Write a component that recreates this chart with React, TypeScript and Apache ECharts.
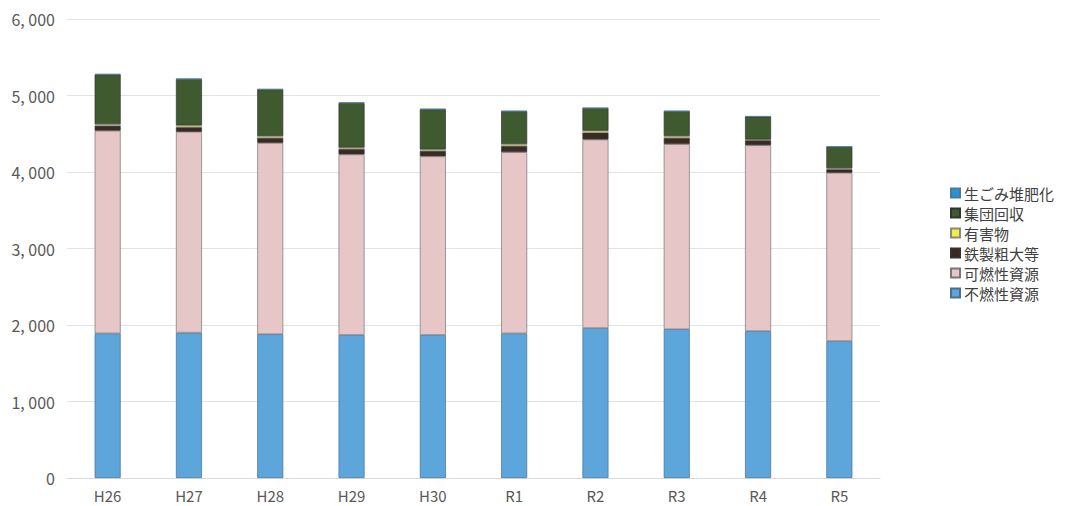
import React, { useEffect, useRef } from "react";
import * as echarts from "echarts";

const categories = ["H26", "H27", "H28", "H29", "H30", "R1", "R2", "R3", "R4", "R5"];
const funenValues = [1890, 1900, 1880, 1870, 1870, 1890, 1960, 1945, 1920, 1790];
const kanenValues = [2650, 2625, 2500, 2360, 2335, 2370, 2465, 2420, 2430, 2200];
const tetsuValues = [65, 60, 65, 70, 70, 80, 90, 80, 65, 45];
const yugaiValues = [20, 25, 25, 20, 20, 25, 25, 25, 10, 15];
const shudanValues = [650, 605, 610, 580, 525, 430, 295, 325, 300, 280];
const namagomiValues = [5, 5, 3, 12, 5, 3, 3, 3, 3, 3];
const legendOrder = ["生ごみ堆肥化", "集団回収", "有害物", "鉄製粗大等", "可燃性資源", "不燃性資源"];

export default function App() {
  const ref = useRef<HTMLDivElement>(null);
  useEffect(() => {
    if (!ref.current) return;
    const chart = echarts.init(ref.current, null, { renderer: "svg" });
    const mk = (name: string, data: number[], color: string, border = "#555") => ({
      name,
      type: "bar",
      stack: "total",
      barWidth: 26,
      data,
      itemStyle: { color, borderColor: border, borderWidth: 0.7 },
    });
    chart.setOption({
      animation: false,
      backgroundColor: "#ffffff",
      grid: { left: 67, right: 193, top: 19, bottom: 28 },
      legend: {
        orient: "vertical",
        left: 945,
        top: 179,
        itemWidth: 9,
        itemHeight: 9,
        itemGap: 2,
        icon: "rect",
        data: legendOrder,
        textStyle: { fontSize: 15, lineHeight: 18, color: "#404040", fontFamily: "Noto Sans CJK JP", padding: [0, 0, 0, -1] },
      },
      xAxis: {
        type: "category",
        data: categories,
        axisTick: { show: false },
        axisLine: { lineStyle: { color: "#d9d9d9" } },
        axisLabel: { fontSize: 15, color: "#595959", margin: 10, fontFamily: "Noto Sans CJK JP" },
      },
      yAxis: {
        type: "value",
        min: 0,
        max: 6000,
        interval: 1000,
        axisLine: { show: false },
        axisTick: { show: false },
        splitLine: { lineStyle: { color: "#e3e3e3" } },
        axisLabel: {
          fontSize: 16,
          color: "#595959",
          margin: 12,
          fontFamily: "Noto Sans CJK JP",
          formatter: (v: number) => (v >= 1000 ? `${Math.floor(v / 1000)}, ${String(v % 1000).padStart(3, "0")}` : String(v)),
        },
      },
      series: [
        mk("不燃性資源", funenValues, "#5da6db", "#4a6f8f"),
        mk("可燃性資源", kanenValues, "#e6c6c6", "#777"),
        mk("鉄製粗大等", tetsuValues, "#3b2a22", "#333"),
        mk("有害物", yugaiValues, "#f2ee3a", "#888"),
        mk("集団回収", shudanValues, "#3f5a2f", "#333"),
        mk("生ごみ堆肥化", namagomiValues, "#2a93d5", "#4a7a9a"),
      ],
    });
    return () => chart.dispose();
  }, []);
  return <div ref={ref} style={{ width: 1073, height: 506, position: "absolute", left: 0, top: 0 }} />;
}
